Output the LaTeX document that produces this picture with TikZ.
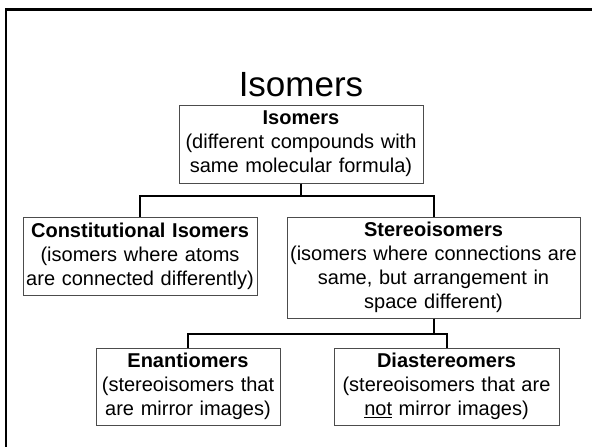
\documentclass[tikz,border=0pt]{standalone}
\usepackage{fontspec}
\setmainfont{Liberation Sans}
\usetikzlibrary{positioning}
\tikzset{
    box/.style = {draw=black!70, line width=1pt, align=center, inner sep=2pt,
                  font=\fontsize{20}{24}\selectfont},
    link/.style = {line width=2pt, black},
    frame/.style = {line width=2.5pt}
}

\begin{document}
\begin{tikzpicture}[x=1pt,y=-1pt]
  \useasboundingbox (0,0) rectangle (592,447);
  \draw[frame] (6,449) -- (6,9.5) -- (594,9.5);

  \node[font=\fontsize{35}{40}\selectfont, inner sep=0] (title) at (301,85) {Isomers};

  \node[box, text width=240pt, minimum height=78pt] (iso) at (301,144)
    {\textbf{Isomers}\\(different compounds with\\same molecular formula)};
  \node[box, text width=230pt, minimum height=78pt] (con) at (140,256)
    {\textbf{Constitutional Isomers}\\(isomers where atoms\\are connected differently)};
  \node[box, text width=289pt, minimum height=101pt] (ste) at (433.5,267.5)
    {\textbf{Stereoisomers}\\(isomers where connections are\\same, but arrangement in\\space different)};
  \node[box, text width=180pt, minimum height=77pt] (ena) at (188,386.5)
    {\textbf{Enantiomers}\\(stereoisomers that\\are mirror images)};
  \node[box, text width=221pt, minimum height=77pt] (dia) at (446.5,386.5)
    {\textbf{Diastereomers}\\(stereoisomers that are\\\underline{not} mirror images)};

  \draw[link] (iso.south) -- ++(0,12) -| (con.north);
  \draw[link] (iso.south) -- ++(0,12) -| (ste.north);
  \draw[link] (ste.south) -- ++(0,15) -| (ena.north);
  \draw[link] (ste.south) -- ++(0,15) -| (dia.north);
\end{tikzpicture}
\end{document}
